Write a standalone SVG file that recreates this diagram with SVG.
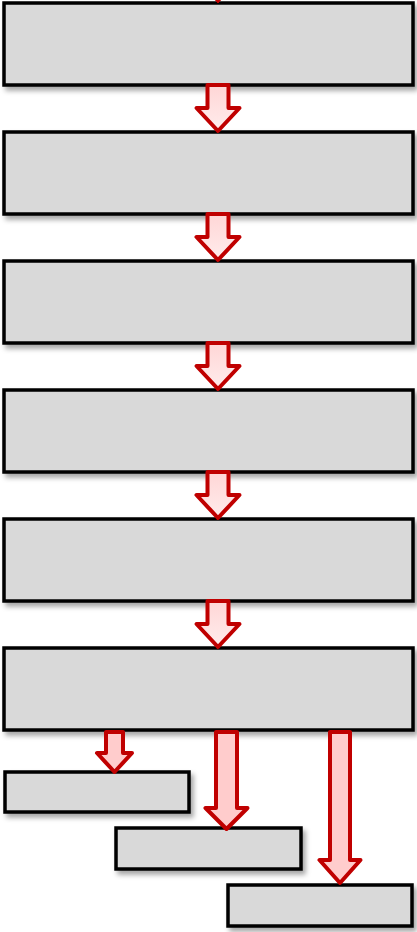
<svg xmlns="http://www.w3.org/2000/svg" width="417" height="932" viewBox="0 0 417 932">
<defs>
<filter id="sh" x="-10%" y="-20%" width="130%" height="160%">
<feDropShadow dx="3" dy="4" stdDeviation="2.5" flood-color="#000" flood-opacity="0.35"/>
</filter>
<linearGradient id="ag" x1="0" y1="0" x2="0" y2="1">
<stop offset="0" stop-color="#ffd6d6"/>
<stop offset="1" stop-color="#ffecec"/>
</linearGradient>
</defs>
<style>
.box{fill:#d9d9d9;stroke:#000;stroke-width:3.5;filter:url(#sh)}
.arr{fill:url(#ag);stroke:#c00000;stroke-width:4;stroke-linejoin:round}
.arr2{fill:#ffcccc;stroke:#c00000;stroke-width:4;stroke-linejoin:round}
</style>
<g id="n1"><rect class="box" x="4" y="3" width="409" height="82"/></g>
<g id="n2"><rect class="box" x="4" y="132" width="409" height="82"/></g>
<g id="n3"><rect class="box" x="4" y="261" width="409" height="82"/></g>
<g id="n4"><rect class="box" x="4" y="390" width="409" height="82"/></g>
<g id="n5"><rect class="box" x="4" y="519" width="409" height="82"/></g>
<g id="n6"><rect class="box" x="4" y="648" width="409" height="82"/></g>
<g id="n7"><rect class="box" x="5" y="772" width="184" height="40"/></g>
<g id="n8"><rect class="box" x="116" y="828" width="185" height="41"/></g>
<g id="n9"><rect class="box" x="228" y="885" width="184" height="41"/></g>
<g id="connectors">
<polygon points="212,-4 224,-4 218,3" fill="#c00000" stroke="#c00000" stroke-width="1"/>
<polygon class="arr" points="207.5,85 228.5,85 228.5,108 239.5,108 218,131 196.5,108 207.5,108"/>
<polygon class="arr" points="207.5,214 228.5,214 228.5,237 239.5,237 218,260 196.5,237 207.5,237"/>
<polygon class="arr" points="207.5,343 228.5,343 228.5,366 239.5,366 218,389 196.5,366 207.5,366"/>
<polygon class="arr" points="207.5,472 228.5,472 228.5,495 239.5,495 218,518 196.5,495 207.5,495"/>
<polygon class="arr" points="207.5,601 228.5,601 228.5,624 239.5,624 218,647 196.5,624 207.5,624"/>
<polygon class="arr2" points="106,732 123,732 123,753 132,753 114.5,772 97,753 106,753"/>
<polygon class="arr2" points="216,732 237,732 237,808 247.5,808 226.5,829 205.5,808 216,808"/>
<polygon class="arr2" points="330,732 350,732 350,860 360.5,860 340,883 319.5,860 330,860"/>
</g>
</svg>
